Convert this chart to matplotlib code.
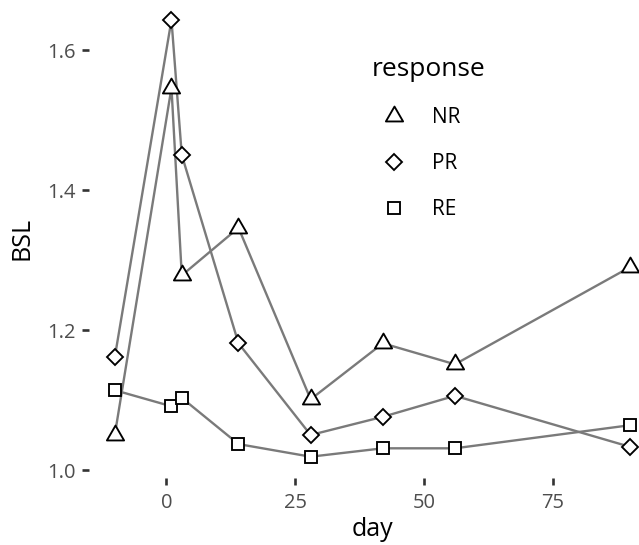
import matplotlib
matplotlib.use('Agg')
import matplotlib.pyplot as plt
from matplotlib.path import Path
from matplotlib.markers import MarkerStyle
from matplotlib.lines import Line2D

# ---- data ----
days = [-10, 1, 3, 14, 28, 42, 56, 90]
responses = ['NR', 'PR', 'RE']
bsl_nr = [1.050, 1.546, 1.278, 1.346, 1.101, 1.181, 1.151, 1.290]
bsl_pr = [1.161, 1.643, 1.450, 1.181, 1.050, 1.076, 1.106, 1.033]
bsl_re = [1.114, 1.091, 1.103, 1.037, 1.019, 1.031, 1.031, 1.064]
x_ticks = [0, 25, 50, 75]
x_tick_labels = ['0', '25', '50', '75']
y_ticks = [1.0, 1.2, 1.4, 1.6]
y_tick_labels = ['1.0', '1.2', '1.4', '1.6']

plt.rcParams['font.family'] = ['Open Sans', 'DejaVu Sans']

W, H = 639, 545
fig = plt.figure(figsize=(W / 100, H / 100), dpi=100)
ax = fig.add_axes([89 / W, (H - 478) / H, (656 - 89) / W, 480 / H])

# R-style triangle (centroid at the data point)
tri = MarkerStyle(Path([(0, 1.5551), (1.3468, -0.7776), (-1.3468, -0.7776), (0, 1.5551)],
                       [Path.MOVETO, Path.LINETO, Path.LINETO, Path.CLOSEPOLY]))
styles = {'NR': (tri, 14.3), 'PR': ('D', 8.4), 'RE': ('s', 8.2)}
series = {'NR': bsl_nr, 'PR': bsl_pr, 'RE': bsl_re}

for r in responses:
    ax.plot(days, series[r], color='#7a7a7a', lw=1.7, zorder=2, solid_capstyle='butt')
handles = []
for r in responses:
    m, ms = styles[r]
    ax.plot(days, series[r], ls='none', marker=m, ms=ms, mfc='white', mec='black',
            mew=1.35, zorder=3)
    handles.append(Line2D([], [], ls='none', marker=m, ms=ms, mfc='white', mec='black',
                          mew=1.35, label=r))

ax.set_xlim(-15, 95)
ax.set_ylim(1.0 - 8 / 700, 1.0 + 472 / 700)
for s in ax.spines.values():
    s.set_visible(False)
ax.set_xticks(x_ticks)
ax.set_xticklabels(x_tick_labels)
ax.set_yticks(y_ticks)
ax.set_yticklabels(y_tick_labels)
ax.tick_params(axis='both', length=5, width=1.9, color='#333333', labelcolor='#4d4d4d',
               labelsize=14.5)
ax.tick_params(axis='x', pad=5.5)
ax.tick_params(axis='y', pad=4.5)
ax.set_xlabel('day', fontsize=18, color='black', labelpad=3)
ax.set_ylabel('BSL', fontsize=18, color='black', labelpad=9)

leg = ax.legend(handles=handles, title='response', loc='upper left',
                bbox_to_anchor=(372 / W, 1 - 57 / H), bbox_transform=fig.transFigure,
                frameon=False, fontsize=15, title_fontsize=19, borderpad=0,
                borderaxespad=0, handlelength=2.15, handletextpad=0.72,
                labelspacing=1.2, alignment='left')

fig.savefig('out.png', dpi=100)
